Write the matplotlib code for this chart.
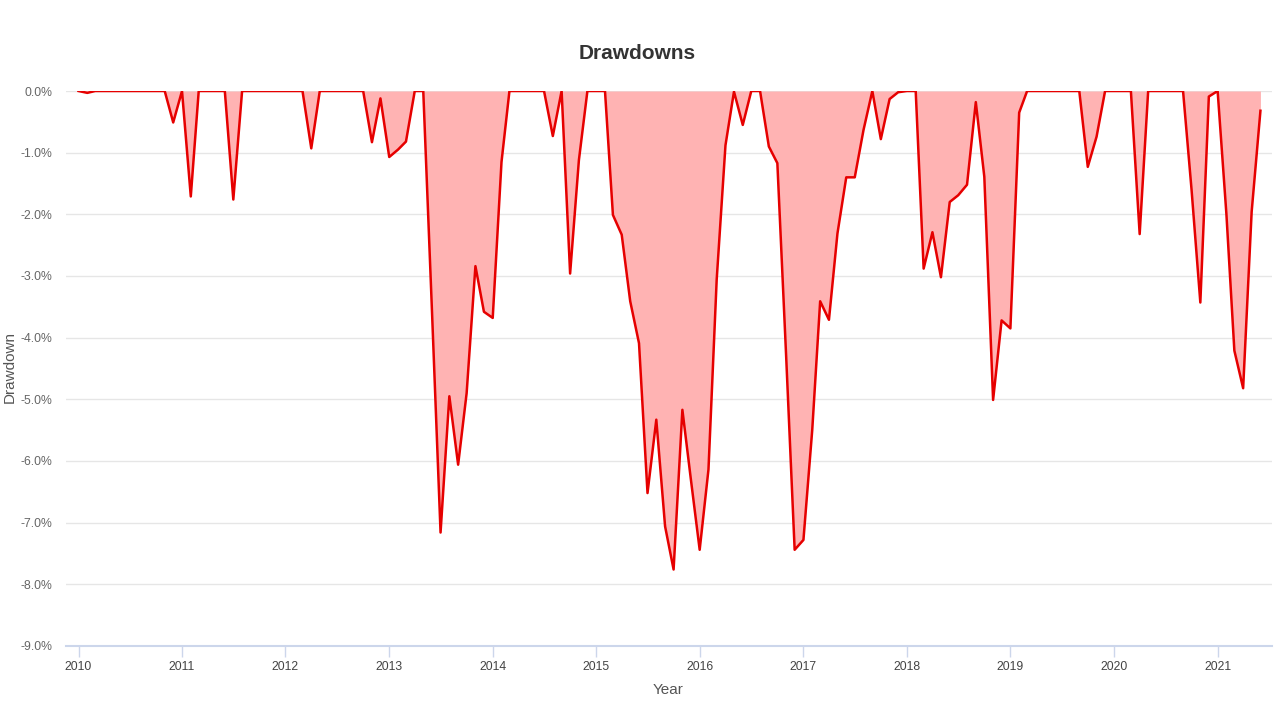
import numpy as np
import pandas as pd
import matplotlib
matplotlib.use('Agg')
import matplotlib.pyplot as plt
import matplotlib.dates as mdates
from matplotlib.ticker import FuncFormatter, MultipleLocator

# monthly drawdown (%) starting Jan 2010
start_month = '2010-01-01'
drawdown = [
    0.0, -0.03, 0.0, 0.0, 0.0, 0.0, 0.0, 0.0, 0.0, 0.0,          # 2010 Jan-Oct
    0.0, -0.51,                                                  # 2010 Nov-Dec
    0.0, -1.71, 0.0, 0.0, 0.0, 0.0, -1.76, 0.0, 0.0, 0.0, 0.0, 0.0,  # 2011
    0.0, 0.0, 0.0, -0.93, 0.0, 0.0, 0.0, 0.0, 0.0, 0.0, -0.83, -0.12,  # 2012
    -1.07, -0.95, -0.82, 0.0, 0.0, -3.6, -7.16, -4.95, -6.06, -4.90, -2.84, -3.58,  # 2013
    -3.68, -1.15, 0.0, 0.0, 0.0, 0.0, 0.0, -0.73, 0.0, -2.96, -1.12, 0.0,  # 2014
    0.0, 0.0, -2.01, -2.33, -3.41, -4.09, -6.52, -5.33, -7.06, -7.76, -5.17, -6.30,  # 2015
    -7.44, -6.14, -3.06, -0.88, -0.01, -0.55, 0.0, 0.0, -0.90, -1.17, -4.3, -7.44,  # 2016
    -7.28, -5.5, -3.41, -3.71, -2.31, -1.40, -1.40, -0.63, 0.0, -0.78, -0.13, -0.02,  # 2017
    0.0, 0.0, -2.88, -2.29, -3.02, -1.80, -1.69, -1.52, -0.18, -1.39, -5.01, -3.72,  # 2018
    -3.85, -0.35, 0.0, 0.0, 0.0, 0.0, 0.0, 0.0, 0.0, -1.23, -0.74, 0.0,  # 2019
    0.0, 0.0, 0.0, -2.32, 0.0, 0.0, 0.0, 0.0, 0.0, -1.6, -3.43, -0.09,  # 2020
    0.0, -2.0, -4.21, -4.82, -1.96, -0.32,                              # 2021 Jan-Jun
]
dates = pd.date_range(start_month, periods=len(drawdown), freq='MS')
dd = np.array(drawdown)

font = ['Liberation Sans', 'DejaVu Sans']

fig = plt.figure(figsize=(12.8, 7.2), dpi=100)
ax = fig.add_axes([0.0516, 0.1028, 0.9422, 0.7708])

ax.fill_between(dates, dd, 0, color='#ffb3b3', linewidth=0, zorder=2)
ax.plot(dates, dd, color='#e60000', linewidth=1.8, zorder=3)

ax.set_ylim(-9, 0)
ax.set_xlim(pd.Timestamp('2009-11-18'), pd.Timestamp('2021-07-12'))
ax.yaxis.set_major_locator(MultipleLocator(1))
ax.yaxis.set_major_formatter(FuncFormatter(lambda v, p: f'{v:.1f}%'))
ax.xaxis.set_major_locator(mdates.YearLocator())
ax.xaxis.set_major_formatter(mdates.DateFormatter('%Y'))

ax.grid(axis='y', color='#e6e6e6', linewidth=1, zorder=0)
for side in ['top', 'right', 'left']:
    ax.spines[side].set_visible(False)
ax.spines['bottom'].set_color('#ccd6eb')
ax.spines['bottom'].set_linewidth(1.5)
ax.tick_params(axis='y', length=0, pad=10, labelsize=8.8, labelcolor='#666666')
ax.tick_params(axis='x', length=8, color='#ccd6eb', width=1, pad=3,
               labelsize=8.8, labelcolor='#444444')
for lab in ax.get_xticklabels() + ax.get_yticklabels():
    lab.set_family(font)

fig.text(0.498, 0.926, 'Drawdowns', ha='center', va='center', fontsize=15,
         fontweight='bold', color='#333333', family=font)
fig.text(0.008, 0.49, 'Drawdown', rotation=90, ha='center', va='center',
         fontsize=11, color='#555555', family=font)
fig.text(0.522, 0.042, 'Year', ha='center', va='center', fontsize=11,
         color='#555555', family=font)

fig.savefig('out.png', dpi=100)
